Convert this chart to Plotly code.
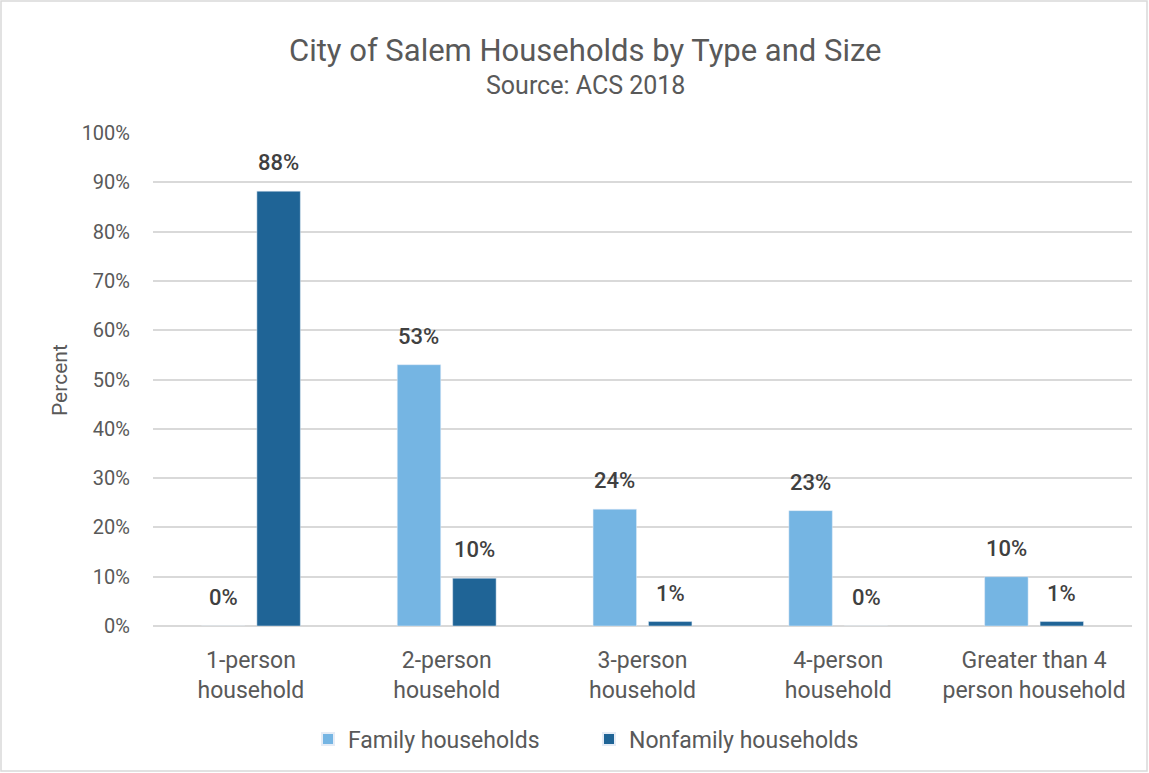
import plotly.graph_objects as go

categories = ["1-person<br>household", "2-person<br>household", "3-person<br>household",
              "4-person<br>household", "Greater than 4<br>person household"]
family = [0, 53.0, 23.7, 23.4, 10.0]
nonfamily = [88.2, 9.7, 0.9, 0.0, 0.9]
family_labels = ["0%", "53%", "24%", "23%", "10%"]
nonfamily_labels = ["88%", "10%", "1%", "0%", "1%"]

FONT = "Roboto"
W, H = 1149, 773
L, R, T, B = 153, 17, 133, 147
pw, ph = W - L - R, H - T - B

def py(pix):
    return (H - B - pix) / ph

def px(pix):
    return (pix - L) / pw

BARGAP, GROUPGAP = 0.434, 0.216
cat_w = pw / len(categories)
slot = cat_w * (1 - BARGAP) / 2
lab_font = dict(size=22, color="#404040", family=FONT, weight=500)

fig = go.Figure()
fig.add_trace(go.Bar(x=categories, y=family, name="Family households",
                     marker_color="#75B5E3"))
fig.add_trace(go.Bar(x=categories, y=nonfamily, name="Nonfamily households",
                     marker_color="#1F6496"))

for vals, labs, sgn in [(family, family_labels, -1), (nonfamily, nonfamily_labels, 1)]:
    for c, v, t in zip(categories, vals, labs):
        fig.add_annotation(x=c, y=v, text=t, showarrow=False, xanchor="center",
                           yanchor="bottom", xshift=sgn * slot / 2, yshift=14,
                           font=lab_font)

fig.update_layout(
    width=W, height=H,
    margin=dict(l=L, r=R, t=T, b=B),
    paper_bgcolor="white", plot_bgcolor="white",
    font=dict(family=FONT, color="#595959"),
    barmode="group", bargap=BARGAP, bargroupgap=GROUPGAP,
    showlegend=True,
    legend=dict(orientation="h", x=px(589), xanchor="center",
                y=py(739), yanchor="middle", entrywidth=236,
                font=dict(size=23, color="#595959", family=FONT),
                itemsizing="constant", traceorder="normal"),
)
fig.update_xaxes(tickfont=dict(size=23, color="#595959"), showline=False,
                 ticks="", showgrid=False, ticklabelstandoff=18)
fig.update_yaxes(range=[0, 100], dtick=10, ticksuffix="%", showgrid=True,
                 gridcolor="#D9D9D9", gridwidth=1.5, zeroline=True, zerolinecolor="#D9D9D9",
                 zerolinewidth=1.5, tickfont=dict(size=20, color="#595959"), ticks="",
                 ticklabelstandoff=22)

fig.add_annotation(text="City of Salem Households by Type and Size", xref="paper", yref="paper",
                   x=px(585), y=py(50), xanchor="center", yanchor="middle", showarrow=False,
                   font=dict(size=31, color="#595959", family=FONT))
fig.add_annotation(text="Source: ACS 2018", xref="paper", yref="paper",
                   x=px(585), y=py(85), xanchor="center", yanchor="middle", showarrow=False,
                   font=dict(size=25, color="#595959", family=FONT))
fig.add_annotation(text="Percent", xref="paper", yref="paper",
                   x=px(60), y=py(380), textangle=-90,
                   xanchor="center", yanchor="middle", showarrow=False,
                   font=dict(size=21, color="#595959", family=FONT))
fig.add_shape(type="rect", xref="paper", yref="paper",
              x0=px(1), x1=px(W - 2), y0=py(H - 2), y1=py(1),
              line=dict(color="#D9D9D9", width=1.5), layer="below")

fig.write_html("out.html", config={"displayModeBar": False},
               post_script="document.body.style.margin='0';")
